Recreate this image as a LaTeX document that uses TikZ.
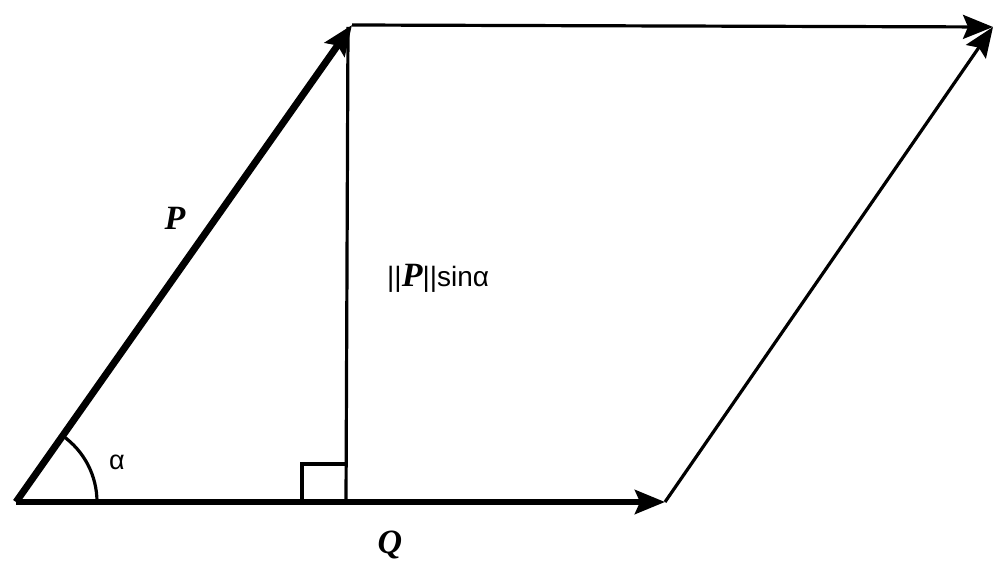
\documentclass[tikz,border=0pt]{standalone}
\usepackage{fontspec}
\setmainfont{Liberation Serif}
\newfontfamily\labsans{Liberation Sans}
\usetikzlibrary{arrows.meta}
\tikzset{
  vec/.style={-{Stealth[length=30pt,width=24pt,inset=5pt]},line width=5.5pt},
  thin line/.style={line width=3.2pt},
  vlabel/.style={font=\fontsize{34}{38}\selectfont\bfseries\itshape}
}
\begin{document}
\begin{tikzpicture}[x=1pt,y=-1pt,line join=miter]
\useasboundingbox (0,0) rectangle (993,561);
\coordinate (o) at (16,502);
\coordinate (p) at (352,25);
\coordinate (q) at (665,502);
\coordinate (r) at (993,27);
\coordinate (f) at (346,502);
% parallelogram sides
\draw[vec,line width=7pt] (o)--(p);
\draw[vec] (o)--(q);
\draw[vec,thin line] (p)--(r);
\draw[vec,thin line] (q)--(r);
% height and right angle
\draw[thin line] (348,27)--(f);
\draw[thin line] (f)++(-44,0) |- ++(44,-38);
\draw[thin line] (o)++(81,0) arc[start angle=0,end angle=-54.8,radius=81];
\node[vlabel] (pl) at (175,218) {P};
\node[vlabel] (ql) at (390,545) {Q};
\node[font=\labsans\fontsize{27}{30}\selectfont] (al) at (117,462) {α};
\node[font=\labsans\fontsize{28}{32}\selectfont,anchor=west,inner sep=0pt] (hl) at (387,278)
  {||{\rmfamily\fontsize{34}{38}\selectfont\bfseries\itshape P}||sinα};
\end{tikzpicture}
\end{document}
